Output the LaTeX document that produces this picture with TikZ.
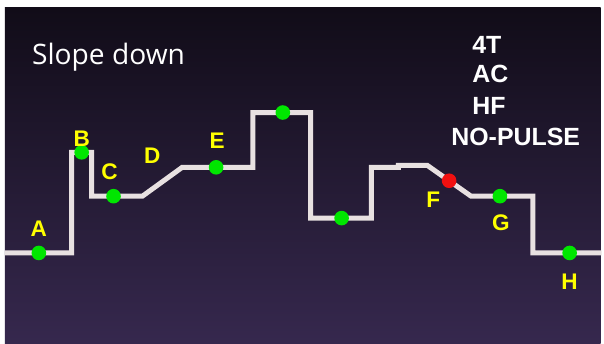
\documentclass[tikz,border=0pt]{standalone}
\usepackage{fontspec}
\newfontfamily\slopefont{Open Sans}
\newfontfamily\tagfont{Liberation Sans}
\usetikzlibrary{positioning}

\definecolor{glowlow}{HTML}{36284E}
\definecolor{glowmid}{HTML}{221A33}
\definecolor{glowtop}{HTML}{110C18}
\definecolor{traceline}{HTML}{E8E1E1}
\definecolor{spotgreen}{HTML}{00E600}
\definecolor{spotred}{HTML}{F01010}
\definecolor{tagyellow}{HTML}{FFFF00}

\begin{document}
\begin{tikzpicture}[x=.75pt,y=-.75pt,
  trace/.style={line width=3.75pt,draw=traceline},
  spot/.style={circle,fill=spotgreen,minimum size=11pt,inner sep=0pt,outer sep=0pt},
  tag/.style={text=tagyellow,inner sep=0pt,
    font=\tagfont\bfseries\fontsize{17}{17}\selectfont},
  setting/.style={text=white,inner sep=0pt,anchor=west,
    font=\tagfont\bfseries\fontsize{18.75}{19}\selectfont}]
  \fill[white] (0,0) rectangle (604,345);
  \shade[top color=glowtop,middle color=glowmid,bottom color=glowlow]
    (5,8) rectangle (603,345);
  %%
  \node[anchor=base west,inner sep=0pt,text=white,
    font=\slopefont\fontsize{21.2}{21}\selectfont] (title) at (32,65) {Slope down};
  \node[setting] (s1) at (474,45) {4T};
  \node[setting] (s2) at (474,74) {AC};
  \node[setting] (s3) at (474,106) {HF};
  \node[setting] (s4) at (453,137.5) {NO-PULSE};
  %%
  \coordinate(k0) at (5,254);
  \coordinate(k1) at (72,254);
  \coordinate(k2) at (72,153);
  \coordinate(k3) at (92,153);
  \coordinate(k4) at (92,197);
  \coordinate(k5) at (143,197);
  \coordinate(k6) at (183,168);
  \coordinate(k7) at (254,168);
  \coordinate(k8) at (254,113);
  \coordinate(k9) at (312,113);
  \coordinate(k10) at (312,219);
  \coordinate(k11) at (373,219);
  \coordinate(k12) at (373,168);
  \coordinate(k13) at (400,168);
  \coordinate(k14) at (400,166);
  \coordinate(k15) at (429,166);
  \coordinate(k16) at (473,197);
  \coordinate(k17) at (535,197);
  \coordinate(k18) at (535,254);
  \coordinate(k19) at (604,254);
  \draw[trace] (k0) -- (k1) -- (k2) -- (k3) -- (k4) -- (k5) -- (k6) -- (k7)
    -- (k8) -- (k9) -- (k10) -- (k11) -- (k12) -- (k13) -- (k14) -- (k15)
    -- (k16) -- (k17) -- (k18) -- (k19);
  %%
  \node[spot](Adot) at (39,254) {};
  \node[spot](Bdot) at (82,153) {};
  \node[spot](Cdot) at (114,197) {};
  \node[spot](Edot) at (217,168) {};
  \node[spot](Tdot) at (284,113) {};
  \node[spot](Ldot) at (343,219) {};
  \node[spot,fill=spotred](Fdot) at (451,181.5) {};
  \node[spot](Gdot) at (502,197) {};
  \node[spot](Hdot) at (572,254) {};
  %%
  \node[tag](Atag) at (39,229.5) {A};
  \node[tag](Btag) at (82,139.5) {B};
  \node[tag](Ctag) at (110,172.5) {C};
  \node[tag](Dtag) at (153,156) {D};
  \node[tag](Etag) at (218,141) {E};
  \node[tag](Ftag) at (435,200.5) {F};
  \node[tag](Gtag) at (503,223.5) {G};
  \node[tag](Htag) at (572,282.5) {H};
\end{tikzpicture}
\end{document}
